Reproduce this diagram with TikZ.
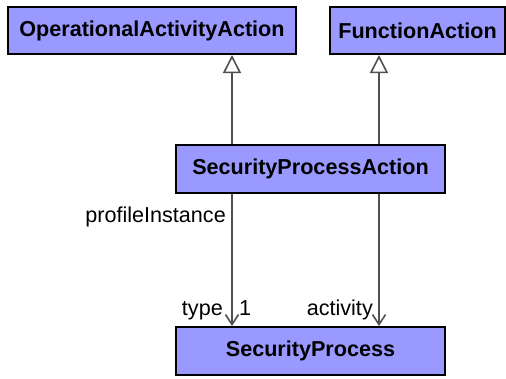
\documentclass[tikz,border=0pt]{standalone}
\usepackage{fontspec}
\setmainfont{Liberation Sans}
\usetikzlibrary{arrows.meta}
\definecolor{boxfill}{HTML}{9999FF}
\definecolor{linegray}{HTML}{505050}
\begin{document}
\begin{tikzpicture}[x=1pt,y=-1pt,
  cls/.style={draw=black, line width=2pt, fill=boxfill, rectangle, inner sep=0pt,
    font=\fontsize{21.6}{26}\selectfont\bfseries},
  lbl/.style={inner sep=0pt, font=\fontsize{21.6}{26}\selectfont},
  gen/.style={draw=linegray, line width=2pt, -{Triangle[open, length=13pt, width=13pt, fill=white, line width=1.6pt, scale=1.4]}},
  nav/.style={draw=linegray, line width=2pt, -{Straight Barb[length=10pt, width=13pt, line width=1.6pt]}}]
\useasboundingbox (0,0) rectangle (506,378);
\node[cls, minimum width=288pt, minimum height=47pt] (oa) at (152,30.5) {OperationalActivityAction};
\node[cls, minimum width=175pt, minimum height=47pt] (fa) at (417.5,30.5) {FunctionAction};
\node[cls, minimum width=269pt, minimum height=48pt] (spa) at (310.5,169) {SecurityProcessAction};
\node[cls, minimum width=269pt, minimum height=48pt] (sp) at (310.5,351) {SecurityProcess};
\coordinate (l) at (232,0);
\coordinate (r) at (379,0);
\draw[gen] (spa.north -| l) -- (oa.south -| l);
\draw[gen] (spa.north -| r) -- (fa.south -| r);
\draw[nav] (spa.south -| l) -- (sp.north -| l);
\draw[nav] (spa.south -| r) -- (sp.north -| r);
\node[lbl, anchor=base east] (pi) at (226,222) {profileInstance};
\node[lbl, anchor=base east] (ty) at (223,315) {type};
\node[lbl, anchor=base west] (one) at (239,315) {1};
\node[lbl, anchor=base east] (ac) at (373,315) {activity};
\end{tikzpicture}
\end{document}
